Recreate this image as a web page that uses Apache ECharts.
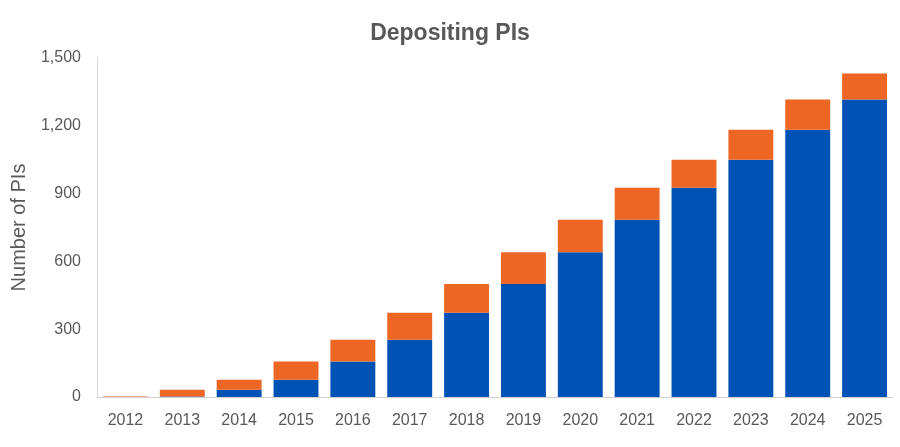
<!DOCTYPE html>
<html>
<head>
<meta charset="utf-8">
<script src="https://cdn.jsdelivr.net/npm/echarts@6/dist/echarts.min.js"></script>
<style>html,body{margin:0;padding:0;background:#fff}#c{width:900px;height:447px}</style>
</head>
<body>
<div id="c"></div>
<script>
const categories = ['2012','2013','2014','2015','2016','2017','2018','2019','2020','2021','2022','2023','2024','2025'];
const existingPIs = [0, 2, 32, 76, 157, 253, 373, 500, 641, 784, 926, 1050, 1183, 1316];
const newPIs = [2, 30, 44, 81, 96, 120, 127, 141, 143, 142, 124, 133, 133, 115];
const yTicks = [0, 300, 600, 900, 1200, 1500];

const chart = echarts.init(document.getElementById('c'));
chart.setOption({
  animation: false,
  title: {
    text: 'Depositing PIs',
    left: 'center',
    top: 17,
    textStyle: { fontFamily: 'Liberation Sans', fontWeight: 'bold', fontSize: 23, color: '#595959' }
  },
  grid: { left: 97, right: 7, top: 58, bottom: 50 },
  xAxis: {
    type: 'category',
    data: categories,
    axisLine: { lineStyle: { color: '#d0d0d0', width: 1 } },
    axisTick: { alignWithLabel: true, length: 5, lineStyle: { color: '#d0d0d0' } },
    axisLabel: { fontFamily: 'Liberation Sans', fontSize: 16, color: '#595959', margin: 16 }
  },
  yAxis: {
    type: 'value',
    min: yTicks[0],
    max: yTicks[yTicks.length - 1],
    interval: yTicks[1] - yTicks[0],
    name: 'Number of PIs',
    nameLocation: 'middle',
    nameGap: 68,
    nameTextStyle: { fontFamily: 'Liberation Sans', fontSize: 20, color: '#595959' },
    axisLine: { show: true, lineStyle: { color: '#d9d9d9' } },
    axisTick: { show: false },
    splitLine: { show: false },
    axisLabel: {
      fontFamily: 'Liberation Sans', fontSize: 16, color: '#595959', margin: 16,
      formatter: v => v.toLocaleString('en-US')
    }
  },
  series: [
    {
      name: 'Existing', type: 'bar', stack: 'total', data: existingPIs,
      barCategoryGap: '21%',
      itemStyle: { color: '#0053B5' }
    },
    {
      name: 'New', type: 'bar', stack: 'total', data: newPIs,
      itemStyle: { color: '#EE6623' }
    }
  ]
});
</script>
</body>
</html>
